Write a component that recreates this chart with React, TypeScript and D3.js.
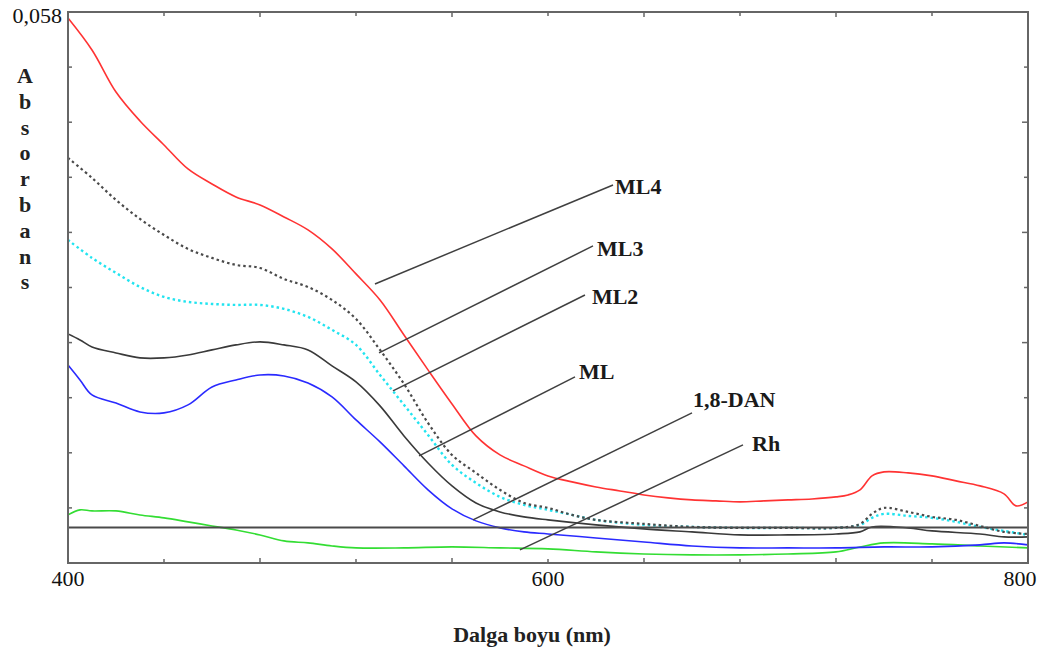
import React from "react";
import * as d3 from "d3";

// ---- Data (wavelength nm, absorbance) ----
const ml4Data: [number, number][] = [
  [400, 0.05733], [410, 0.05373], [420, 0.049], [430, 0.04574], [440, 0.04304], [450, 0.04034],
  [460, 0.03865], [470, 0.03719], [480, 0.03629], [490, 0.03494], [500, 0.03348], [510, 0.03134],
  [520, 0.02853], [530, 0.0256], [540, 0.02166], [550, 0.01773], [560, 0.0139], [570, 0.0103],
  [580, 0.00816], [590, 0.00693], [600, 0.0058], [610, 0.00513], [620, 0.00456], [630, 0.00411],
  [640, 0.00366], [650, 0.00333], [660, 0.0031], [670, 0.00299], [680, 0.00288], [690, 0.00299],
  [700, 0.0031], [710, 0.00321], [720, 0.00344], [725, 0.00366], [730, 0.00423], [735, 0.0058],
  [740, 0.00625], [750, 0.00614], [760, 0.0058], [770, 0.00524], [780, 0.00468], [790, 0.00378],
  [795, 0.00243], [800, 0.00288],
];

const ml3Data: [number, number][] = [
  [400, 0.04158], [410, 0.03933], [420, 0.03685], [430, 0.03471], [440, 0.03291], [450, 0.03134],
  [460, 0.03033], [470, 0.02954], [480, 0.0292], [490, 0.02796], [500, 0.02706], [510, 0.0256],
  [520, 0.02346], [530, 0.01998], [540, 0.01615], [550, 0.01176], [560, 0.00816], [570, 0.00614],
  [580, 0.00423], [590, 0.00276], [600, 0.0022], [610, 0.00141], [620, 0.00085], [640, 0.0004],
  [660, 0.00006], [680, -0.00005], [700, -0.00005], [720, -0.00005], [730, 0.0004], [735, 0.00153],
  [740, 0.0022], [750, 0.00175], [760, 0.00119], [770, 0.00085], [780, 0.00017], [790, -0.0005],
  [800, -0.00073],
];

const ml2Data: [number, number][] = [
  [400, 0.03235], [410, 0.03033], [420, 0.02864], [430, 0.02706], [440, 0.02594], [450, 0.02538],
  [460, 0.02515], [470, 0.02504], [480, 0.02504], [490, 0.02459], [500, 0.02369], [510, 0.02223],
  [520, 0.02054], [530, 0.01716], [540, 0.01379], [550, 0.01041], [560, 0.00704], [570, 0.00501],
  [580, 0.00344], [590, 0.00254], [600, 0.00198], [610, 0.00141], [620, 0.00085], [640, 0.00029],
  [660, 0.00006], [680, -0.00005], [700, -0.00005], [720, -0.00005], [730, 0.00029], [735, 0.00108],
  [740, 0.00153], [750, 0.0013], [760, 0.00108], [770, 0.00063], [780, 0.00006], [790, -0.00039],
  [800, -0.00084],
];

const mlData: [number, number][] = [
  [400, 0.02178], [405, 0.0211], [410, 0.02031], [420, 0.01964], [430, 0.01908], [440, 0.01908],
  [450, 0.01941], [460, 0.01998], [470, 0.02054], [480, 0.02088], [490, 0.02054], [500, 0.01998],
  [510, 0.01818], [520, 0.01638], [530, 0.01368], [540, 0.0103], [550, 0.00726], [560, 0.00468],
  [570, 0.00276], [580, 0.00175], [590, 0.00119], [600, 0.00085], [620, 0.00029], [640, -0.00016],
  [660, -0.0005], [680, -0.00084], [700, -0.00084], [720, -0.00073], [730, -0.0005], [735, 0.00006],
  [750, -0.00005], [760, -0.00039], [780, -0.00073], [790, -0.00106], [800, -0.00106],
];

const danData: [number, number][] = [
  [400, 0.01829], [405, 0.0166], [410, 0.01491], [420, 0.01401], [430, 0.013], [440, 0.01289],
  [450, 0.01379], [460, 0.01581], [470, 0.0166], [480, 0.01716], [490, 0.01705], [500, 0.01626],
  [510, 0.01469], [520, 0.0121], [530, 0.00963], [540, 0.00693], [550, 0.00423], [560, 0.00209],
  [570, 0.00074], [580, -0.00005], [590, -0.0005], [600, -0.00073], [620, -0.00118], [640, -0.00163],
  [660, -0.00208], [680, -0.0023], [700, -0.0023], [720, -0.0023], [740, -0.00219], [760, -0.00219],
  [780, -0.00196], [790, -0.00174], [800, -0.00196],
];

const rhData: [number, number][] = [
  [400, 0.00141], [405, 0.00198], [410, 0.00186], [420, 0.00186], [430, 0.00141], [440, 0.00108],
  [450, 0.00063], [460, 0.00017], [470, -0.00028], [480, -0.00084], [490, -0.00151], [500, -0.00174],
  [510, -0.00208], [520, -0.0023], [540, -0.0023], [560, -0.00219], [580, -0.0023], [600, -0.00241],
  [620, -0.00275], [640, -0.00298], [660, -0.00309], [680, -0.00309], [700, -0.00298], [720, -0.00275],
  [730, -0.00219], [740, -0.00174], [760, -0.00185], [780, -0.00208], [800, -0.0023],
];

const seriesNames = ["Rh", "1,8-DAN", "ML", "ML2", "ML3", "ML4"];
const seriesColors = ["#33dd33", "#2a2aff", "#3a3a3a", "#22e4f0", "#4a4a4a", "#ff3333"];
const seriesDashes = ["", "", "", "2.5 3", "2.5 3", ""];
const seriesWidths = [1.6, 1.6, 1.6, 2.4, 2.2, 1.6];
const seriesData = [rhData, danData, mlData, ml2Data, ml3Data, ml4Data];

// annotation leaders: [startλ, startA, endλ, endA, textλ, textA]
const labelNames = ["ML4", "ML3", "ML2", "ML", "1,8-DAN", "Rh"];
const labelLines: number[][] = [
  [527.9, 0.0274, 627.1, 0.03854, 627.9, 0.03842],
  [529.6, 0.01964, 618.75, 0.03168, 620.4, 0.03134],
  [535.4, 0.01536, 615.4, 0.02616, 618.3, 0.02594],
  [546.25, 0.00805, 611.25, 0.01694, 612.9, 0.0175],
  [568.75, 0.00085, 660, 0.01289, 660.4, 0.01435],
  [588.3, -0.00253, 681.25, 0.00929, 685, 0.0095],
];

const xTickLabels = [400, 600, 800];
const yTopLabel = "0,058";
const yTitle = "Absorbans";
const xTitle = "Dalga boyu (nm)";

const W = 1042;
const H = 652;
const L = 68, R = 1028, T = 12, B = 563;

export default function App() {
  const x = d3.scaleLinear().domain([400, 800]).range([L, R]);
  const y = d3.scaleLinear().domain([-0.004, 0.058]).range([B, T]);
  const line = d3
    .line<[number, number]>()
    .x((d) => x(d[0]))
    .y((d) => y(d[1]))
    .curve(d3.curveCatmullRom.alpha(0.5));

  const yTicks = d3.range(11).map((i) => -0.004 + i * 0.0062);
  const xTicks = d3.range(400, 801, 40);
  const font = "'Liberation Serif', 'Times New Roman', serif";

  return (
    <svg
      width={W}
      height={H}
      style={{ position: "absolute", left: 0, top: 0, background: "#fff" }}
      fontFamily={font}
    >
      <defs>
        <clipPath id="plotClip">
          <rect x={L} y={T} width={R - L} height={B - T} />
        </clipPath>
      </defs>

      <g clipPath="url(#plotClip)">
        {seriesData.map((d, i) => (
          <path
            key={seriesNames[i]}
            d={line(d) || ""}
            fill="none"
            stroke={seriesColors[i]}
            strokeWidth={seriesWidths[i]}
            strokeDasharray={seriesDashes[i] || undefined}
          />
        ))}
        {/* zero baseline */}
        <line x1={L} x2={R} y1={y(0)} y2={y(0)} stroke="#4a4a4a" strokeWidth={2} />
      </g>

      {/* leader lines */}
      {labelLines.map((l, i) => (
        <g key={labelNames[i]}>
          <line x1={x(l[0])} y1={y(l[1])} x2={x(l[2])} y2={y(l[3])} stroke="#404040" strokeWidth={1.5} />
          <text
            x={x(l[4])}
            y={y(l[5])}
            dominantBaseline="central"
            fontSize={22}
            fontWeight="bold"
            fill="#1a1a1a"
          >
            {labelNames[i]}
          </text>
        </g>
      ))}

      {/* frame */}
      <rect x={L} y={T} width={R - L} height={B - T} fill="none" stroke="#666" strokeWidth={2} />

      {/* y ticks left & right */}
      {yTicks.map((t, i) => (
        <g key={"yt" + i}>
          <line x1={L} x2={L + 4} y1={y(t)} y2={y(t)} stroke="#666" strokeWidth={1.5} />
          <line x1={R} x2={R - (i % 2 === 0 ? 6 : 4)} y1={y(t)} y2={y(t)} stroke="#666" strokeWidth={1.5} />
        </g>
      ))}
      {/* x ticks bottom & top */}
      {xTicks.map((t, i) => (
        <g key={"xt" + i}>
          <line x1={x(t)} x2={x(t)} y1={B} y2={B - (i % 2 === 0 ? 5 : 4)} stroke="#666" strokeWidth={1.5} />
          <line x1={x(t)} x2={x(t)} y1={T} y2={T + (i % 2 === 0 ? 5 : 4)} stroke="#666" strokeWidth={1.5} />
        </g>
      ))}

      {/* x tick labels */}
      {xTickLabels.map((t) => (
        <text
          key={"xl" + t}
          x={Math.min(x(t), W - 22)}
          y={586}
          textAnchor="middle"
          fontSize={22}
          fill="#111"
        >
          {t}
        </text>
      ))}

      {/* y top label */}
      <text x={62} y={23} textAnchor="end" fontSize={22} fill="#111">
        {yTopLabel}
      </text>

      {/* vertical stacked y title */}
      {yTitle.split("").map((c, i) => (
        <text
          key={"yc" + i}
          x={25}
          y={83 + i * 25.8}
          textAnchor="middle"
          fontSize={22}
          fontWeight="bold"
          fill="#222"
        >
          {c}
        </text>
      ))}

      {/* x title */}
      <text x={532} y={642} textAnchor="middle" fontSize={22} fontWeight="bold" fill="#222">
        {xTitle}
      </text>
    </svg>
  );
}
